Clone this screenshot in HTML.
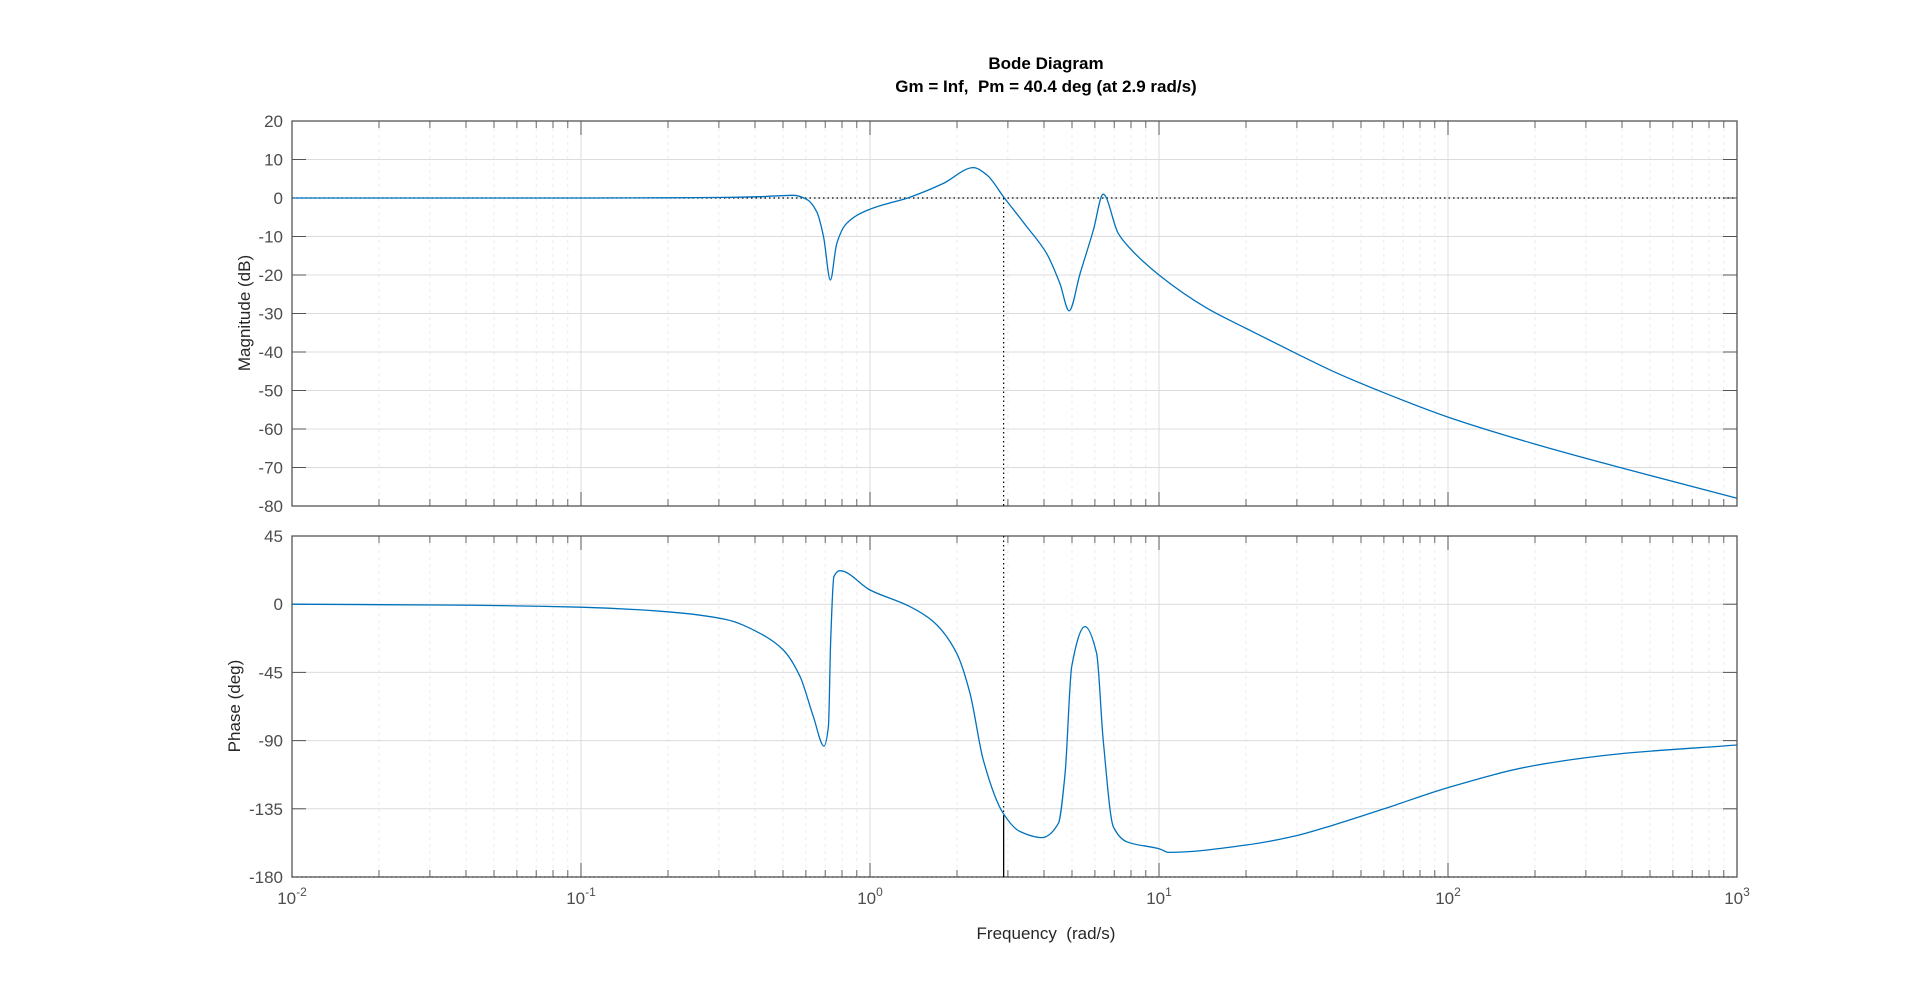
<!DOCTYPE html>
<html><head><meta charset="utf-8"><style>
html,body{margin:0;padding:0;background:#fff;}
svg text{font-family:"Liberation Sans",Arial,sans-serif;}
</style></head><body>
<svg id="chart" width="1920" height="986" viewBox="0 0 1920 986" xmlns="http://www.w3.org/2000/svg">
<rect width="1920" height="986" fill="#fff"/>
<text x="1046" y="69" text-anchor="middle" font-size="17" font-weight="bold" fill="#000">Bode Diagram</text>
<text x="1046" y="92" text-anchor="middle" font-size="17" font-weight="bold" fill="#000" xml:space="preserve">Gm = Inf,  Pm = 40.4 deg (at 2.9 rad/s)</text>
<text x="1046" y="939" text-anchor="middle" font-size="17" fill="#262626" xml:space="preserve">Frequency  (rad/s)</text>
<text transform="translate(250,313) rotate(-90)" text-anchor="middle" font-size="17" fill="#262626">Magnitude (dB)</text>
<text transform="translate(240,706) rotate(-90)" text-anchor="middle" font-size="17" fill="#262626">Phase (deg)</text>
<g id="mag"></g>
<g id="pha"></g>
</svg>
<script>
const magLogW = [-2,-1.5,-1,-0.7,-0.5,-0.381,-0.265,-0.219,-0.184,-0.161,-0.137,-0.115,-0.081,0,0.138,0.254,0.358,0.404,0.465,0.542,0.611,0.657,0.689,0.727,0.773,0.807,0.859,0.9,1.0,1.163,1.302,1.478,1.602,1.779,2.0,2.3,2.6,3.0];
const magDb = [0,0,0,0.05,0.15,0.35,0.7,-0.35,-3.6,-10,-21.3,-11.8,-6.6,-2.9,0.2,3.8,7.9,6,0,-7.4,-14.4,-22.2,-29.3,-19.6,-8.3,1.0,-9.2,-13.1,-20,-28.5,-33.9,-40.5,-45,-50.6,-56.9,-63.9,-70.1,-78];
const phaLogW = [-2,-1.5,-1,-0.7,-0.5,-0.381,-0.3,-0.242,-0.196,-0.159,-0.144,-0.136,-0.125,-0.104,0,0.138,0.219,0.3,0.346,0.392,0.461,0.519,0.594,0.652,0.675,0.698,0.744,0.784,0.807,0.842,0.888,1.003,1.033,1.302,1.478,1.602,1.779,2.0,2.3,2.6,3.0];
const phaDeg = [0,-0.5,-2,-5,-10,-19.2,-30.2,-47.8,-74.2,-93.6,-80.8,-23.6,18.2,22.1,9.4,-1.6,-11.5,-32.4,-58.8,-102.8,-138,-150,-154,-144.6,-111.6,-41.2,-14.8,-32.4,-89.6,-146.8,-156.7,-161.5,-163.8,-158.9,-152.6,-145.8,-135,-121,-106.4,-98.6,-92.9];
const magTicks = [20,10,0,-10,-20,-30,-40,-50,-60,-70,-80];
const phaTicks = [45,0,-45,-90,-135,-180];
const decades = [-2,-1,0,1,2,3];
const crossoverW = 2.9;
const crossoverPhase = -139.6;

const NS="http://www.w3.org/2000/svg";
const X0=292,X1=1737;
const xs=l=>X0+(l-(-2))/(5)*(X1-X0);
function mk(tag,attrs,parent){const e=document.createElementNS(NS,tag);for(const k in attrs)e.setAttribute(k,attrs[k]);parent.appendChild(e);return e;}

// monotone cubic path (Fritsch-Carlson)
function monoPath(px,py){
  const n=px.length,d=[],m=[];
  for(let i=0;i<n-1;i++)d.push((py[i+1]-py[i])/(px[i+1]-px[i]));
  m[0]=d[0];m[n-1]=d[n-2];
  for(let i=1;i<n-1;i++){ if(d[i-1]*d[i]<=0)m[i]=0; else {const h0=px[i]-px[i-1],h1=px[i+1]-px[i];const w1=2*h1+h0,w2=h1+2*h0;m[i]=(w1+w2)/(w1/d[i-1]+w2/d[i]);} }
  let s='M'+px[0].toFixed(1)+','+py[0].toFixed(1);
  for(let i=0;i<n-1;i++){const h=(px[i+1]-px[i])/3;
    s+=' C'+(px[i]+h).toFixed(1)+','+(py[i]+m[i]*h).toFixed(1)+' '+(px[i+1]-h).toFixed(1)+','+(py[i+1]-m[i+1]*h).toFixed(1)+' '+px[i+1].toFixed(1)+','+py[i+1].toFixed(1);}
  return s;
}

function panel(g,top,bot,ymax,ymin,ticks,lx,ly,name,refVal){
  const ys=v=>top+(ymax-v)/(ymax-ymin)*(bot-top);
  for(let d=-2;d<3;d++){for(let m=2;m<10;m++){const x=xs(d+Math.log10(m));
    const l=mk('line',{x1:x,x2:x,y1:top,y2:bot,stroke:'#ebebeb','stroke-dasharray':'3 4','stroke-width':1},g);
    
    
    mk('line',{x1:x,x2:x,y1:bot,y2:bot-7,stroke:'#666'},g);
    mk('line',{x1:x,x2:x,y1:top,y2:top+7,stroke:'#666'},g);
  }}
  decades.forEach(d=>{const x=xs(d);
    const l=mk('line',{x1:x,x2:x,y1:top,y2:bot,stroke:'#dcdcdc','stroke-width':1},g);
    
    
    mk('line',{x1:x,x2:x,y1:bot,y2:bot-14,stroke:'#555'},g);
    mk('line',{x1:x,x2:x,y1:top,y2:top+14,stroke:'#555'},g);
  });
  ticks.forEach(t=>{const y=ys(t);
    const l=mk('line',{x1:X0,x2:X1,y1:y,y2:y,stroke:'#dcdcdc'},g);
    
    
    mk('line',{x1:X0,x2:X0+14,y1:y,y2:y,stroke:'#555'},g);
    mk('line',{x1:X1,x2:X1-14,y1:y,y2:y,stroke:'#555'},g);
    const tx=mk('text',{x:283,y:y+6,'text-anchor':'end','font-size':17,fill:'#4d4d4d'},g);
    tx.textContent=String(t);
    
    
  });
  const r=mk('line',{x1:X0,x2:X1,y1:ys(refVal),y2:ys(refVal),stroke:'#000','stroke-dasharray':'1.5 3','stroke-width':1.2},g);
  
  
  const p=mk('path',{d:monoPath(lx.map(xs),ly.map(ys)),fill:'none',stroke:'#0072bd','stroke-width':1.3,'stroke-linejoin':'round'},g);
  
  
  const b=mk('rect',{x:X0,y:top,width:X1-X0,height:bot-top,fill:'none',stroke:'#555','stroke-width':1.3},g);
  
  
  return ys;
}
const gm=document.getElementById('mag'),gp=document.getElementById('pha');
const ysM=panel(gm,121,506,20,-80,magTicks,magLogW,magDb,'magnitude',0);
const ysP=panel(gp,536,877,45,-180,phaTicks,phaLogW,phaDeg,'phase',-180);
const xc=xs(Math.log10(crossoverW));
let l1=mk('line',{x1:xc,x2:xc,y1:ysM(0),y2:506,stroke:'#000','stroke-dasharray':'1.5 3','stroke-width':1.2},gm);


let l2=mk('line',{x1:xc,x2:xc,y1:536,y2:ysP(crossoverPhase),stroke:'#000','stroke-dasharray':'1.5 3','stroke-width':1.2},gp);


let l3=mk('line',{x1:xc,x2:xc,y1:ysP(crossoverPhase),y2:877,stroke:'#000','stroke-width':1.3},gp);


decades.forEach(d=>{
  const t=mk('text',{x:xs(d),y:904,'text-anchor':'middle','font-size':17,fill:'#4d4d4d'},gp);
  
  
  t.appendChild(document.createTextNode('10'));
  const s=mk('tspan',{dy:-8,'font-size':12},t);
  s.textContent=String(d);
});
</script>
</body></html>
